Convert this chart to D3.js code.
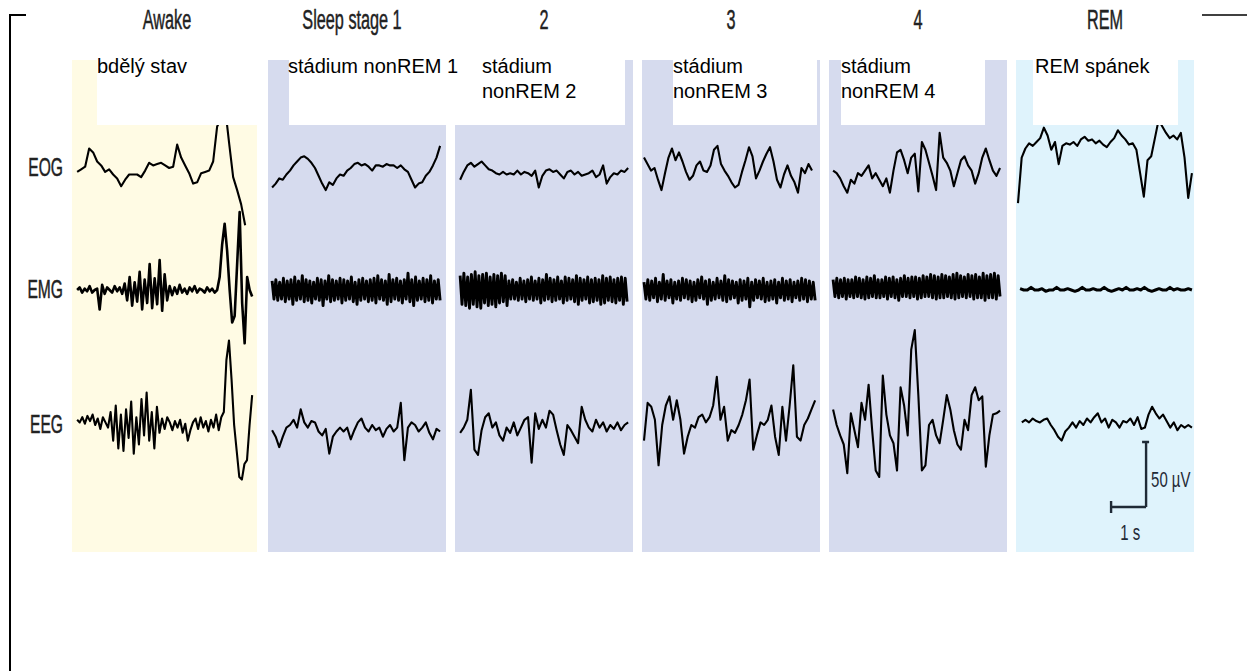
<!DOCTYPE html>
<html><head><meta charset="utf-8">
<script src="https://cdn.jsdelivr.net/npm/d3@7"></script>
<style>body{margin:0;background:#fff}svg{display:block}</style>
</head><body><svg id="c" width="1247" height="671"></svg>
<script>
// ---------- data ----------
const stages = ["Awake", "Sleep stage 1", "2", "3", "4", "REM"];
const czechLabels = [["bdělý stav"], ["stádium nonREM 1"], ["stádium", "nonREM 2"], ["stádium", "nonREM 3"], ["stádium", "nonREM 4"], ["REM spánek"]];
const channels = ["EOG", "EMG", "EEG"];
const scaleBarLabels = ["50 µV", "1 s"];

// signal values in µV, evenly sampled over each trace's time window
const eogAwake = [-3,-1,1,15,12,5,2,-3,-1,-5,-8,-14,-9,-5,-5,-5,-7,-2,4,2,3,4,2,0,1,18,8,2,-4,-12,-11,-4,-3,-2,5,32,38,46,19,-7,-17,-28,-44];
const emgAwake = [0,2,-2,1,-1,3,-2,0,1,-15,4,-3,2,0,-2,3,-1,2,-3, 5,-8,10,-12,6,-9,14,-15,8,-10,20,-14,9,-11,23,-16,12,-8, 3,-4,2,-3,4,-2,1,-3,2,-1,3,-2,1,0,-2,2,-1,1,-2, 0,10,35,51,30,0,-25,-20,20,60,-10,-41,10,0,-5];
const eegAwake = [4,2,6,1,7,3,8,0,5,-3,6,2,-2, 10,-12,15,-18,8,-20,12,-10,18,-22,6,-15,20,-8,25,-12,10,-18,14,-6, 5,-3,6,2,-4,3,-2,4,-6,1,-12,-4,2,5,-3,6,-2,3,-5,4,-2,8,-4,6, 10,50,65,35,0,-20,-40,-42,-30,-27,0,23];

const eogS1 = [-15,-12,-8,-9,-5,-2,2,5,8,9,7,4,0,-6,-12,-17,-11,-13,-8,-5,-6,-2,0,3,4,2,3,1,-2,2,2,1,3,2,2,0,2,-1,-3,-9,-15,-12,-11,-6,-3,2,8,17];
// EMG: successive positive / negative deflections of the muscle noise
const emgS1Peaks   = [7,8,6,9,7,8,10,7,11,8,7,6,9,8,7,11,8,7,9,8,7,10,6,8,9,7,8,9,11,8,7,12,8,9,7,8,13,8,10,7,9,8,11,7,8];
const emgS1Troughs = [-7,-8,-7,-9,-7,-11,-8,-7,-9,-8,-10,-7,-8,-12,-7,-9,-8,-7,-10,-8,-7,-9,-11,-8,-7,-9,-8,-10,-7,-8,-11,-9,-7,-8,-10,-7,-9,-12,-8,-7,-9,-8,-10,-7,-8];
const eegS1 = [-4,-9,-17,-9,-2,0,4,-2,12,2,-2,3,2,-5,-8,-3,-22,-9,-5,-2,-5,-2,-11,-4,2,5,-2,-5,0,-4,-2,-9,-3,0,-5,-2,17,-27,-2,2,0,-5,-2,2,-6,-11,-3,-5];

const eogS2 = [-9,-3,2,4,1,3,5,2,-1,-2,-4,-5,-3,-5,-4,-5,-2,-5,-3,-4,-6,-2,-15,-6,-2,-1,-3,-2,-5,-8,-3,-2,-5,-3,-6,-5,-4,-2,-7,-5,2,-12,-7,-4,-5,-2,-3,0];
const emgS2Peaks   = [11,13,10,12,14,11,12,13,10,12,11,13,11,7,8,6,9,7,8,10,7,9,8,12,9,8,10,7,10,9,8,11,9,8,10,8,9,8,11,9,10,8,9,10,9];
const emgS2Troughs = [-11,-12,-14,-11,-13,-14,-10,-12,-11,-13,-10,-9,-12,-7,-7,-8,-7,-9,-7,-8,-7,-10,-8,-7,-9,-8,-7,-10,-8,-7,-9,-11,-8,-7,-10,-9,-8,-11,-10,-8,-9,-10,-8,-11,-9];
const eegS2 = [-6,-2,4,27,-19,-23,-4,6,9,-2,2,-8,-12,-2,-6,2,-8,-2,4,6,-29,9,-3,4,-2,11,8,-4,-15,-23,0,-4,-9,-14,14,4,-2,-5,4,-2,2,-5,0,-3,2,-4,0,2];

const eogS3 = [8,3,-2,0,-9,-17,-4,8,15,6,12,5,-3,-9,-6,2,5,-2,-3,2,14,17,3,-2,-6,-11,-15,-13,-3,6,16,9,-8,-2,5,11,16,5,-9,-15,-5,2,-6,-11,-19,0,-4,3,-2];
const emgS3Peaks   = [6,8,7,9,6,12,7,8,6,7,9,8,7,6,8,10,7,8,6,9,7,11,8,7,6,8,7,9,6,8,7,9,6,7,8,6,9,7,8,6,7,9,8,7,6];
const emgS3Troughs = [-7,-8,-6,-9,-7,-8,-6,-10,-7,-8,-6,-7,-9,-8,-6,-7,-11,-8,-7,-6,-8,-9,-7,-6,-10,-8,-7,-13,-8,-6,-7,-9,-8,-7,-10,-6,-8,-7,-9,-6,-8,-7,-9,-7,-8];
const eegS3 = [-12,17,14,4,-31,0,15,22,4,19,4,-22,-9,0,-2,6,8,2,6,15,37,4,14,-12,-4,-6,0,8,19,35,-19,-8,2,0,4,15,-9,-23,14,-12,15,46,-9,-12,0,5,12,19];

const eogS4 = [-2,-4,-8,-14,-19,-9,-12,-4,-6,-2,2,-8,-4,-9,-14,-8,-19,-2,12,14,6,-4,8,11,-18,20,14,4,-6,-17,27,8,4,-2,-14,-4,6,9,2,-2,-12,-4,8,15,6,-2,-6,0];
const emgS4Peaks   = [8,9,8,9,8,8,10,9,8,10,9,11,8,8,10,9,10,8,9,11,9,10,10,9,11,10,12,11,10,12,11,10,12,13,11,10,12,11,12,10,13,11,12,13,11];
const emgS4Troughs = [-5,-6,-5,-7,-5,-6,-5,-6,-7,-6,-5,-6,-6,-5,-7,-5,-6,-8,-5,-5,-6,-5,-7,-6,-5,-5,-6,-7,-6,-6,-5,-6,-7,-6,-5,-6,-5,-7,-6,-6,-8,-6,-6,-7,-5];
const eegS4 = [12,0,-8,-15,-37,9,-4,-17,17,4,31,-4,-35,-40,38,8,-8,-14,-35,29,15,-8,58,73,23,-35,-31,0,4,-8,-14,4,23,12,-4,-15,-19,4,-4,23,29,19,22,-32,-8,8,9,11];

const eogREM = [-27,8,15,19,17,20,23,31,25,14,20,3,17,19,18,20,17,22,24,21,22,19,21,18,16,20,23,29,25,22,18,19,14,-4,-22,6,9,23,37,32,27,23,25,22,27,8,-23,-4];
const emgREM = [1,0,0,2,0,0,1,-1,0,0,2,0,0,1,0,-1,0,2,0,0,1,0,0,2,0,-1,0,1,0,2,0,0,1,0,2,0,-1,0,1,0,0,2,0,1,0,0,1,0];
const eegREM = [2,4,2,5,3,2,4,5,0,-4,-9,-12,-5,-2,2,-2,3,0,5,2,6,9,2,5,-2,4,2,-2,3,2,5,0,6,-3,-2,8,14,9,5,8,3,-2,2,-4,0,-2,0,-2];

const interleave = (p, t) => d3.merge(d3.zip(p, t));
const emgS1 = interleave(emgS1Peaks, emgS1Troughs);
const emgS2 = interleave(emgS2Peaks, emgS2Troughs);
const emgS3 = interleave(emgS3Peaks, emgS3Troughs);
const emgS4 = interleave(emgS4Peaks, emgS4Troughs);

// recording windows (s) within each 5 s epoch
const traces = [
  {stage:"Awake", ch:"EOG", v:eogAwake, t0:0.09, t1:4.89},
  {stage:"Awake", ch:"EMG", v:emgAwake, t0:0.09, t1:5.09, w:2.6},
  {stage:"Awake", ch:"EEG", v:eegAwake, t0:0.09, t1:5.09},
  {stage:"Sleep stage 1", ch:"EOG", v:eogS1, t0:0.06, t1:4.86},
  {stage:"Sleep stage 1", ch:"EMG", v:emgS1, t0:0.06, t1:4.86, w:2.9},
  {stage:"Sleep stage 1", ch:"EEG", v:eegS1, t0:0.06, t1:4.86},
  {stage:"2", ch:"EOG", v:eogS2, t0:0.09, t1:4.89},
  {stage:"2", ch:"EMG", v:emgS2, t0:0.09, t1:4.86, w:2.9},
  {stage:"2", ch:"EEG", v:eegS2, t0:0.09, t1:4.89},
  {stage:"3", ch:"EOG", v:eogS3, t0:0.0, t1:4.8},
  {stage:"3", ch:"EMG", v:emgS3, t0:0.0, t1:4.89, w:2.9},
  {stage:"3", ch:"EEG", v:eegS3, t0:0.0, t1:4.89},
  {stage:"4", ch:"EOG", v:eogS4, t0:0.06, t1:4.83},
  {stage:"4", ch:"EMG", v:emgS4, t0:0.06, t1:4.83, w:2.9},
  {stage:"4", ch:"EEG", v:eegS4, t0:0.06, t1:4.83},
  {stage:"REM", ch:"EOG", v:eogREM, t0:0.0, t1:4.97},
  {stage:"REM", ch:"EMG", v:emgREM, t0:0.06, t1:4.97, w:3},
  {stage:"REM", ch:"EEG", v:eegREM, t0:0.11, t1:4.97}
];

// ---------- layout ----------
const svg = d3.select("#c");
const band = d3.scaleBand().domain(stages).range([81, 1194]).paddingInner(0.048);
const rowY = d3.scaleOrdinal().domain(channels).range([168, 290, 425]);
const uv = d3.scaleLinear().domain([0, 50]).range([0, -65]);   // µV -> px offset
const sec = d3.scaleLinear().domain([0, 1]).range([0, 35]);      // s -> px
const panelTop = 60, panelBottom = 552;
const panelLeft = s => band(s) - (s === "Awake" ? 9 : 0);
const panelRight = s => band(s) + band.bandwidth() - (s === "Awake" ? 2 : 0);
const fills = {"Awake":"#fffbe4", "REM":"#dff3fc"};
const labelBoxes = [[97,258],[289,625],[673,817],[841,985],[1033,1178]];
const labelX = [97, 288, 482, 673, 841, 1035];
const condensed = "'Liberation Sans', Arial, sans-serif";

// panels
svg.append("g").selectAll("rect").data(stages).join("rect")
  .attr("x", d => panelLeft(d)).attr("y", panelTop)
  .attr("width", d => panelRight(d) - panelLeft(d)).attr("height", panelBottom - panelTop)
  .attr("fill", d => fills[d] || "#d6dbee");

// traces
const gT = svg.append("g");
traces.forEach(tr => {
  const n = tr.v.length;
  const tx = d3.scaleLinear().domain([0, n - 1]).range([tr.t0, tr.t1]);
  const x0 = panelLeft(tr.stage) + 2;
  const base = rowY(tr.ch);
  const line = d3.line().x((d, i) => x0 + sec(tx(i))).y(d => base + uv(d));
  gT.append("path").datum(tr.v).attr("d", line)
    .attr("fill", "none").attr("stroke", "#000")
    .attr("stroke-width", tr.w || 2.1)
    .attr("stroke-linejoin", "round");
});

// white label boxes (cover top of traces)
svg.append("g").selectAll("rect").data(labelBoxes).join("rect")
  .attr("x", d => d[0]).attr("y", 40).attr("width", d => d[1] - d[0]).attr("height", 85)
  .attr("fill", "#fff");

// Czech labels
const gL = svg.append("g").attr("font-family", "'Liberation Sans', Arial, sans-serif").attr("font-size", 20).attr("fill", "#000");
czechLabels.forEach((lines, i) => {
  const t = gL.append("text").attr("x", labelX[i]).attr("y", 73);
  lines.forEach((ln, j) => t.append("tspan").attr("x", labelX[i]).attr("dy", j ? 25 : 0).text(ln));
});

// stage headers (condensed)
svg.append("g").selectAll("g").data(stages).join("g")
  .attr("transform", d => `translate(${band(d) + band.bandwidth() / 2 - (d === "Awake" ? 3 : (d === "Sleep stage 1" ? 5 : 0))},29) scale(0.58,1)`)
  .append("text").attr("text-anchor", "middle").attr("font-family", condensed)
  .attr("font-size", 28).attr("fill", "#222").attr("stroke", "#222").attr("stroke-width", 0.5).text(d => d);

// channel labels
svg.append("g").selectAll("g").data(channels).join("g")
  .attr("transform", d => `translate(63,${rowY(d) + 8}) scale(0.6,1)`)
  .append("text").attr("text-anchor", "end").attr("font-family", condensed)
  .attr("font-size", 26).attr("fill", "#222").attr("stroke", "#222").attr("stroke-width", 0.5).text(d => d);

// scale bar
const sbX = panelLeft("REM") + 2 + sec(3.66), sbY = 507;
const sb = svg.append("g").attr("stroke", "#1f2a36").attr("stroke-width", 2.4).attr("fill", "none");
sb.append("path").attr("d", `M${sbX},${sbY} V${sbY + uv(50)} M${sbX - 4},${sbY + uv(50)} H${sbX + 3} M${sbX},${sbY} H${sbX - sec(1)} M${sbX - sec(1)},${sbY - 6} V${sbY + 6}`);
svg.append("g").attr("transform", `translate(${sbX + 5},${sbY - 20}) scale(0.68,1)`)
  .append("text").attr("font-family", condensed).attr("font-size", 22).attr("fill", "#1f2a36").text(scaleBarLabels[0]);
svg.append("g").attr("transform", `translate(${sbX - sec(0.45)},${sbY + 33}) scale(0.68,1)`)
  .append("text").attr("text-anchor", "middle").attr("font-family", condensed).attr("font-size", 22).attr("fill", "#1f2a36").text(scaleBarLabels[1]);

// frame lines
svg.append("path").attr("d", "M26,15 H10 V671").attr("fill", "none").attr("stroke", "#000").attr("stroke-width", 2);
svg.append("path").attr("d", "M1202,15 H1247").attr("fill", "none").attr("stroke", "#000").attr("stroke-width", 1.5);
</script>
</body></html>
